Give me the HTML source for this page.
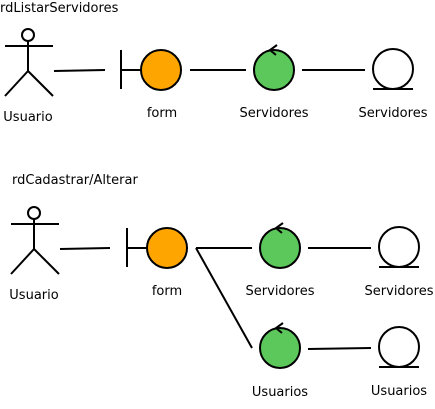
<!DOCTYPE html>
<html><head><meta charset="utf-8"><style>
body{margin:0;background:#fff;width:435px;height:404px;overflow:hidden}
</style></head><body>
<svg width="435" height="404" viewBox="0 0 435 404" xmlns="http://www.w3.org/2000/svg">
<g stroke="#000" stroke-width="2" fill="none">
<g>
<circle cx="28" cy="35" r="6" fill="#fff"/>
<line x1="28" y1="41" x2="28" y2="71"/><line x1="5" y1="46" x2="53" y2="46"/>
<line x1="28" y1="71" x2="5" y2="96"/><line x1="28" y1="71" x2="53" y2="96"/>
</g>
<line x1="54" y1="71" x2="105" y2="70"/>
<g>
<line x1="121" y1="50" x2="121" y2="89"/><line x1="121" y1="70" x2="141" y2="70"/>
<circle cx="161" cy="70" r="20" fill="#ffa500"/>
</g>
<line x1="190" y1="70" x2="246" y2="70"/>
<g>
<circle cx="274" cy="70" r="20" fill="#5cc85c"/>
<polyline points="277,45 270,50 276,55"/>
</g>
<line x1="302" y1="70" x2="365" y2="70"/>
<g>
<circle cx="393" cy="69" r="20" fill="#fff"/><line x1="373" y1="89" x2="413" y2="89"/>
</g>
<g>
<circle cx="34" cy="213" r="6" fill="#fff"/>
<line x1="34" y1="219" x2="34" y2="249"/><line x1="11" y1="224" x2="59" y2="224"/>
<line x1="34" y1="249" x2="11" y2="274"/><line x1="34" y1="249" x2="59" y2="274"/>
</g>
<line x1="60" y1="249" x2="110" y2="248"/>
<g>
<line x1="127" y1="228" x2="127" y2="267"/><line x1="127" y1="248" x2="147" y2="248"/>
<circle cx="167" cy="248" r="20" fill="#ffa500"/>
</g>
<line x1="196" y1="248" x2="252" y2="248"/>
<line x1="196" y1="248" x2="252" y2="348"/>
<g>
<circle cx="280" cy="248" r="20" fill="#5cc85c"/>
<polyline points="283,223 276,228 282,233"/>
</g>
<line x1="308" y1="248" x2="371" y2="248"/>
<g>
<circle cx="399" cy="247" r="20" fill="#fff"/><line x1="379" y1="267" x2="419" y2="267"/>
</g>
<g>
<circle cx="280" cy="348" r="20" fill="#5cc85c"/>
<polyline points="283,323 276,328 282,333"/>
</g>
<line x1="308" y1="349" x2="371" y2="348"/>
<g>
<circle cx="399" cy="347" r="20" fill="#fff"/><line x1="379" y1="367" x2="419" y2="367"/>
</g>
</g>
<g font-family="DejaVu Sans, Liberation Sans, sans-serif" font-size="13" fill="#000">
<text x="0" y="12">rdListarServidores</text>
<text x="28" y="121" text-anchor="middle">Usuario</text>
<text x="162" y="117" text-anchor="middle">form</text>
<text x="274" y="117" text-anchor="middle">Servidores</text>
<text x="393" y="117" text-anchor="middle">Servidores</text>
<text x="12" y="184">rdCadastrar/Alterar</text>
<text x="34" y="299" text-anchor="middle">Usuario</text>
<text x="167" y="295" text-anchor="middle">form</text>
<text x="280" y="295" text-anchor="middle">Servidores</text>
<text x="399" y="295" text-anchor="middle">Servidores</text>
<text x="280" y="396" text-anchor="middle">Usuarios</text>
<text x="399" y="395" text-anchor="middle">Usuarios</text>
</g>
</svg>
</body></html>
